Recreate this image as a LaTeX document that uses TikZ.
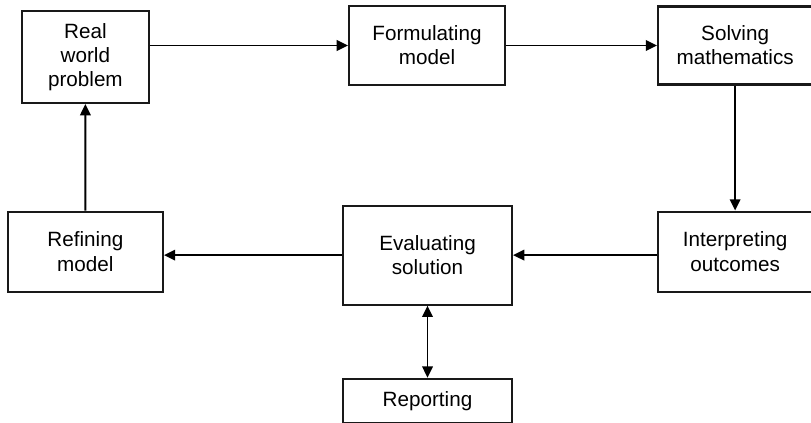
\documentclass[tikz,border=0pt]{standalone}
\usepackage{fontspec}
\setmainfont{Liberation Sans}
\usepackage{tikz}
\usetikzlibrary{arrows.meta,positioning}

\begin{document}
\begin{tikzpicture}[node distance=1cm, auto,
    stage/.style={rectangle, draw=black!90, line width=1.5pt, align=center, inner sep=2pt, font=\fontsize{14.7}{17.1}\selectfont},
    line/.style={draw, line width=1.3pt, -{Triangle[length=8pt, width=7.5pt]}},
    both/.style={draw, line width=1.3pt, {Triangle[length=8pt, width=7.5pt]}-{Triangle[length=8pt, width=7.5pt]}}]

    \useasboundingbox (0,0) rectangle (20.275,-10.575);

    \node [stage, minimum width=3.9cm, minimum height=1.975cm] (formulate) at (10.675,-1.1375) {Formulating\\model};
    \node [stage, minimum width=3.85cm, minimum height=1.95cm, right=3.775cm of formulate] (solve) {Solving\\mathematics};
    \node [stage, minimum width=3.175cm, minimum height=2.3cm, left=4.95cm of formulate, yshift=-0.2875cm] (problem) {Real\\world\\problem};
    \node [stage, minimum width=3.85cm, minimum height=2cm, below=3.125cm of solve] (interpret) {Interpreting\\outcomes};
    \node [stage, minimum width=4.225cm, minimum height=2.475cm, left=3.6cm of interpret, yshift=-0.0875cm] (evaluate) {Evaluating\\solution};
    \node [stage, minimum width=3.875cm, minimum height=2cm, left=4.45cm of evaluate, yshift=0.0875cm] (refine) {Refining\\model};
    \node [stage, draw=black!90, minimum width=4.225cm, minimum height=1.1cm, below=1.8cm of evaluate] (report) {Reporting};

    \path [line] (problem.east |- formulate.west) -- (formulate.west);
    \path [line] (formulate) -- (solve);
    \path [line] (solve) -- (interpret);
    \path [line] (interpret.west |- evaluate) -- (evaluate.east);
    \path [line] (evaluate.west) -- (evaluate.west -| refine.east);
    \path [line] (refine) -- (problem);
    \path [both] (evaluate) -- (report);
\end{tikzpicture}
\end{document}
